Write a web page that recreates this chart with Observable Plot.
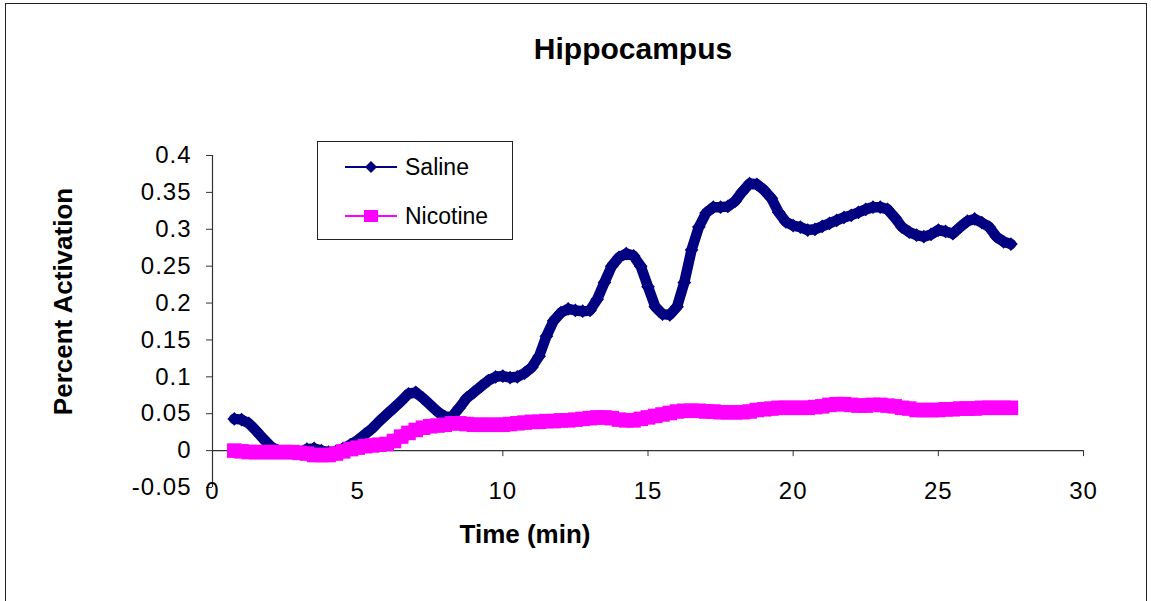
<!DOCTYPE html>
<html>
<head>
<meta charset="utf-8">
<script src="https://cdn.jsdelivr.net/npm/d3@7"></script>
<script src="https://cdn.jsdelivr.net/npm/@observablehq/plot@0.6"></script>
<style>
  body { margin: 0; background: #fff; font-family: "Liberation Sans", Arial, sans-serif; }
  #wrap { position: relative; width: 1151px; height: 601px; overflow: hidden; }
  #border { position: absolute; left: 5px; top: 3px; width: 1140px; height: 700px; border: 1.5px solid #222; }
  #chart { position: absolute; left: 0; top: 0; }
  #chart g[aria-label="x-axis tick label"] text,
  #chart g[aria-label="y-axis tick label"] text { letter-spacing: 1px; }
  #legend { position: absolute; left: 317px; top: 141px; width: 196px; height: 99px;
            box-sizing: border-box; border: 1px solid #222; background: #fff; }
  .lrow { position: absolute; left: 0; height: 24px; display: flex; align-items: center; }
  .lrow svg { margin-left: 27px; }
  .lrow span { margin-left: 8px; font-size: 23px; color: #000; }
</style>
</head>
<body>
<div id="wrap">
  <div id="border"></div>
  <div id="chart"></div>
  <div id="legend"></div>
</div>
<script>
// Sampling times (min)
const time = [
  0.75, 1, 1.25, 1.5, 1.75, 2, 2.25, 2.5, 2.75, 3, 3.25, 3.5, 3.75, 4, 4.25, 4.5, 4.75, 5,
  5.25, 5.5, 5.75, 6, 6.25, 6.5, 6.75, 7, 7.25, 7.5, 7.75, 8, 8.25, 8.5, 8.75, 9, 9.25, 9.5,
  9.75, 10, 10.25, 10.5, 10.75, 11, 11.25, 11.5, 11.75, 12, 12.25, 12.5, 12.75, 13, 13.25, 13.5,
  13.75, 14, 14.25, 14.5, 14.75, 15, 15.25, 15.5, 15.75, 16, 16.25, 16.5, 16.75, 17, 17.25, 17.5,
  17.75, 18, 18.25, 18.5, 18.75, 19, 19.25, 19.5, 19.75, 20, 20.25, 20.5, 20.75, 21, 21.25, 21.5,
  21.75, 22, 22.25, 22.5, 22.75, 23, 23.25, 23.5, 23.75, 24, 24.25, 24.5, 24.75, 25, 25.25, 25.5,
  25.75, 26, 26.25, 26.5, 26.75, 27, 27.25, 27.5
];

// Percent activation, saline group
const saline = [
  0.043, 0.042, 0.037, 0.027, 0.016, 0.006, 0.000, -0.002, -0.003, -0.002, 0.002, 0.003, 0.000, -0.002, -0.001, 0.003, 0.008, 0.014,
  0.022, 0.030, 0.040, 0.049, 0.058, 0.067, 0.077, 0.079, 0.071, 0.062, 0.053, 0.046, 0.046, 0.058, 0.071, 0.079, 0.087, 0.095,
  0.100, 0.101, 0.099, 0.100, 0.105, 0.113, 0.128, 0.155, 0.176, 0.187, 0.192, 0.190, 0.189, 0.190, 0.205, 0.228,
  0.250, 0.262, 0.267, 0.264, 0.250, 0.222, 0.195, 0.185, 0.184, 0.195, 0.228, 0.272, 0.303, 0.322, 0.330, 0.330,
  0.331, 0.338, 0.351, 0.362, 0.361, 0.353, 0.342, 0.323, 0.310, 0.305, 0.303, 0.299, 0.300, 0.304, 0.308, 0.312,
  0.316, 0.319, 0.323, 0.327, 0.330, 0.330, 0.327, 0.316, 0.303, 0.296, 0.292, 0.290, 0.293, 0.299, 0.297, 0.294,
  0.303, 0.311, 0.314, 0.309, 0.303, 0.290, 0.283, 0.280
];

// Percent activation, nicotine group
const nicotine = [
  0.000, -0.001, -0.002, -0.002, -0.002, -0.002, -0.002, -0.002, -0.002, -0.003, -0.004, -0.006, -0.006, -0.006, -0.004, -0.001, 0.002, 0.004,
  0.006, 0.007, 0.008, 0.009, 0.013, 0.019, 0.024, 0.028, 0.031, 0.033, 0.034, 0.035, 0.037, 0.037, 0.036, 0.035, 0.035, 0.035,
  0.035, 0.035, 0.036, 0.037, 0.038, 0.039, 0.039, 0.040, 0.040, 0.041, 0.041, 0.042, 0.043, 0.044, 0.045, 0.045,
  0.044, 0.042, 0.041, 0.041, 0.043, 0.045, 0.047, 0.049, 0.051, 0.053, 0.054, 0.054, 0.054, 0.053, 0.053, 0.052,
  0.052, 0.052, 0.052, 0.053, 0.055, 0.056, 0.057, 0.058, 0.058, 0.058, 0.058, 0.058, 0.059, 0.060, 0.062, 0.063,
  0.063, 0.062, 0.061, 0.061, 0.062, 0.062, 0.061, 0.060, 0.058, 0.057, 0.055, 0.055, 0.055, 0.055, 0.056, 0.056,
  0.057, 0.057, 0.057, 0.058, 0.058, 0.058, 0.058, 0.058
];

const xTicks = [0, 5, 10, 15, 20, 25, 30];
const yTicks = [-0.05, 0, 0.05, 0.1, 0.15, 0.2, 0.25, 0.3, 0.35, 0.4];

const titleText = "Hippocampus";
const xLabel = "Time (min)";
const yLabel = "Percent Activation";
const seriesNames = ["Saline", "Nicotine"];
const seriesColors = ["#000080", "#FF00FF"];

const salineRows = time.map((t, i) => ({time: t, value: saline[i]}));
const nicotineRows = time.map((t, i) => ({time: t, value: nicotine[i]}));

const W = 1151, H = 601;
const mTop = 155, mBottom = 114, mLeft = 212, mRight = 68;
const yDomain = [-0.05, 0.4];
// distance in px between the frame bottom and the zero line, used to lift the x axis onto y = 0
const zeroLift = (0 - yDomain[0]) * (H - mTop - mBottom) / (yDomain[1] - yDomain[0]);
const axisColor = "#333";
const fmt = d => String(Math.round(d * 100) / 100);

const chart = Plot.plot({
  width: W,
  height: H,
  marginTop: mTop,
  marginBottom: mBottom,
  marginLeft: mLeft,
  marginRight: mRight,
  style: {fontFamily: '"Liberation Sans", Arial, sans-serif', color: "#000", background: "transparent", overflow: "visible"},
  x: {domain: [0, 30]},
  y: {domain: yDomain},
  marks: [
    Plot.ruleX([0], {stroke: axisColor, strokeWidth: 1.2}),
    Plot.ruleY([0], {stroke: axisColor, strokeWidth: 1.2}),
    Plot.axisY(yTicks, {tickSize: 6, tickPadding: 15, tickFormat: fmt, fontSize: 24, stroke: axisColor, label: null}),
    Plot.axisX(xTicks, {anchor: "bottom", tickSize: 6, tickPadding: 25, dy: -zeroLift, tickFormat: fmt, fontSize: 24, stroke: axisColor, label: null}),

    // dense marker bands: thick connecting line under the markers
    Plot.line(salineRows, {x: "time", y: "value", stroke: seriesColors[0], strokeWidth: 10.5, curve: "linear"}),
    Plot.dot(salineRows, {x: "time", y: "value", symbol: "diamond2", r: 6.2, fill: seriesColors[0], stroke: "none"}),
    Plot.line(nicotineRows, {x: "time", y: "value", stroke: seriesColors[1], strokeWidth: 13.5, curve: "linear"}),
    Plot.dot(nicotineRows, {x: "time", y: "value", symbol: "square", r: 8.2, fill: seriesColors[1], stroke: "none"}),

    Plot.text([titleText], {text: d => d, frameAnchor: "top", lineAnchor: "top", textAnchor: "middle", dx: -15, dy: -118, fontSize: 30, fontWeight: "bold"}),
    Plot.text([xLabel], {text: d => d, frameAnchor: "bottom", lineAnchor: "top", textAnchor: "middle", dx: -123, dy: 37, fontSize: 26, fontWeight: "bold"}),
    Plot.text([yLabel], {text: d => d, frameAnchor: "left", lineAnchor: "middle", textAnchor: "middle", rotate: -90, dx: -149, dy: -20, fontSize: 26, fontWeight: "bold"})
  ]
});
document.getElementById("chart").appendChild(chart);

// Legend: line-with-marker swatch and series name
const legend = d3.select("#legend");
const rowCenters = [25, 74];
seriesNames.forEach((name, i) => {
  const row = legend.append("div").attr("class", "lrow").style("top", (rowCenters[i] - 12) + "px");
  const svg = row.append("svg").attr("width", 52).attr("height", 24);
  svg.append("line").attr("x1", 0).attr("x2", 52).attr("y1", 12).attr("y2", 12)
    .attr("stroke", seriesColors[i]).attr("stroke-width", 2);
  if (i === 0) {
    svg.append("path").attr("d", "M26,6L32,12L26,18L20,12Z").attr("fill", seriesColors[i]);
  } else {
    svg.append("rect").attr("x", 19).attr("y", 6).attr("width", 14).attr("height", 12).attr("fill", seriesColors[i]);
  }
  row.append("span").text(name);
});
</script>
</body>
</html>
